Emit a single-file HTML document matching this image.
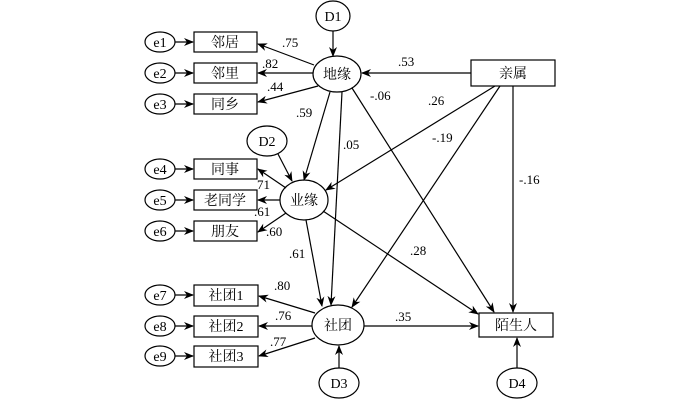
<!DOCTYPE html>
<html><head><meta charset="utf-8"><style>body{margin:0;background:#fff}svg{display:block}text{font-family:"Liberation Serif","Noto Serif CJK SC","Noto Sans CJK SC",serif;font-size:14px;fill:#000}.n{font-size:13px}</style></head><body>
<svg width="700" height="400" viewBox="0 0 700 400" xmlns="http://www.w3.org/2000/svg">
<defs><marker id="a" markerWidth="10" markerHeight="8" refX="9" refY="4" orient="auto" markerUnits="userSpaceOnUse"><path d="M0,0 L10,4 L0,8 L3,4z" fill="#000"/></marker></defs>
<g stroke="#000" stroke-width="1.2" fill="#fff">
<ellipse cx="333" cy="16" rx="17" ry="15"/>
<ellipse cx="337" cy="74" rx="24" ry="18"/>
<ellipse cx="267" cy="141" rx="20" ry="15"/>
<ellipse cx="304" cy="200" rx="24" ry="20"/>
<ellipse cx="338" cy="325" rx="26" ry="20"/>
<ellipse cx="339" cy="383" rx="20" ry="15"/>
<ellipse cx="517" cy="383" rx="20" ry="15"/>
<rect x="471" y="60" width="84" height="26"/>
<rect x="479" y="313" width="74" height="24"/>
<rect x="194" y="32" width="63" height="20"/><rect x="194" y="63" width="63" height="20"/><rect x="194" y="94" width="63" height="20"/>
<rect x="194" y="159" width="63" height="20"/><rect x="194" y="190" width="63" height="20"/><rect x="194" y="221" width="63" height="20"/>
<rect x="194" y="285" width="64" height="21"/><rect x="194" y="316" width="64" height="21"/><rect x="194" y="346" width="64" height="21"/>
<ellipse cx="160" cy="42" rx="15" ry="10"/><ellipse cx="160" cy="73" rx="15" ry="10"/><ellipse cx="160" cy="104" rx="15" ry="10"/>
<ellipse cx="160" cy="169" rx="15" ry="10"/><ellipse cx="160" cy="200" rx="15" ry="10"/><ellipse cx="160" cy="231" rx="15" ry="10"/>
<ellipse cx="160" cy="295" rx="15" ry="10"/><ellipse cx="160" cy="326" rx="15" ry="10"/><ellipse cx="160" cy="356" rx="15" ry="10"/>
</g>
<g stroke="#000" stroke-width="1.2" marker-end="url(#a)">
<line x1="175" y1="42" x2="193" y2="42"/><line x1="175" y1="73" x2="193" y2="73"/><line x1="175" y1="104" x2="193" y2="104"/>
<line x1="175" y1="169" x2="193" y2="169"/><line x1="175" y1="200" x2="193" y2="200"/><line x1="175" y1="231" x2="193" y2="231"/>
<line x1="175" y1="295" x2="193" y2="295"/><line x1="175" y1="326" x2="193" y2="326"/><line x1="175" y1="356" x2="193" y2="356"/>
<line x1="333" y1="31" x2="333" y2="56"/>
<line x1="471" y1="73" x2="362" y2="73"/>
<line x1="495" y1="86" x2="326" y2="190"/>
<line x1="500" y1="86" x2="352" y2="307"/>
<line x1="513" y1="86" x2="513" y2="312"/>
<line x1="352" y1="88" x2="494" y2="312"/>
<line x1="342" y1="92" x2="331" y2="305"/>
<line x1="330" y1="92" x2="304" y2="180"/>
<line x1="306" y1="220" x2="322" y2="306"/>
<line x1="323" y1="211" x2="478" y2="314"/>
<line x1="364" y1="326" x2="478" y2="326"/>
<line x1="517" y1="368" x2="517" y2="338"/>
<line x1="339" y1="368" x2="339" y2="346"/>
<line x1="278" y1="154" x2="292" y2="181"/>
<line x1="314" y1="65" x2="258" y2="44"/><line x1="313" y1="73" x2="258" y2="73"/><line x1="318" y1="86" x2="258" y2="102"/>
<line x1="286" y1="188" x2="258" y2="169"/><line x1="280" y1="200" x2="258" y2="200"/><line x1="286" y1="213" x2="258" y2="232"/>
<line x1="315" y1="313" x2="259" y2="296"/><line x1="312" y1="326" x2="259" y2="326"/><line x1="315" y1="338" x2="259" y2="356"/>
</g>
<g text-anchor="middle">
<text x="333" y="21">D1</text><text x="337" y="79">地缘</text><text x="267" y="146">D2</text><text x="304" y="205">业缘</text>
<text x="338" y="330">社团</text><text x="339" y="388">D3</text><text x="517" y="388">D4</text>
<text x="513" y="78">亲属</text><text x="516" y="330">陌生人</text>
<text x="225" y="47">邻居</text><text x="225" y="78">邻里</text><text x="225" y="109">同乡</text>
<text x="225" y="174">同事</text><text x="225" y="205">老同学</text><text x="225" y="236">朋友</text>
<text x="226" y="300">社团1</text><text x="226" y="331">社团2</text><text x="226" y="361">社团3</text>
<text x="160" y="47">e1</text><text x="160" y="78">e2</text><text x="160" y="109">e3</text>
<text x="160" y="174">e4</text><text x="160" y="205">e5</text><text x="160" y="236">e6</text>
<text x="160" y="300">e7</text><text x="160" y="331">e8</text><text x="160" y="361">e9</text>
</g>
<g class="n">
<text class="n" x="282" y="47">.75</text><text class="n" x="262" y="68">.82</text><text class="n" x="267" y="91">.44</text>
<text class="n" x="296" y="117">.59</text><text class="n" x="343" y="149">.05</text><text class="n" x="370" y="100">-.06</text>
<text class="n" x="398" y="66">.53</text><text class="n" x="428" y="105">.26</text><text class="n" x="432" y="142">-.19</text><text class="n" x="519" y="184">-.16</text>
<text class="n" x="257" y="189">71</text><text class="n" x="254" y="216">.61</text><text class="n" x="266" y="236">.60</text>
<text class="n" x="289" y="258">.61</text><text class="n" x="410" y="255">.28</text>
<text class="n" x="274" y="290">.80</text><text class="n" x="275" y="320">.76</text><text class="n" x="270" y="346">.77</text>
<text class="n" x="395" y="321">.35</text>
</g>
</svg>
</body></html>
